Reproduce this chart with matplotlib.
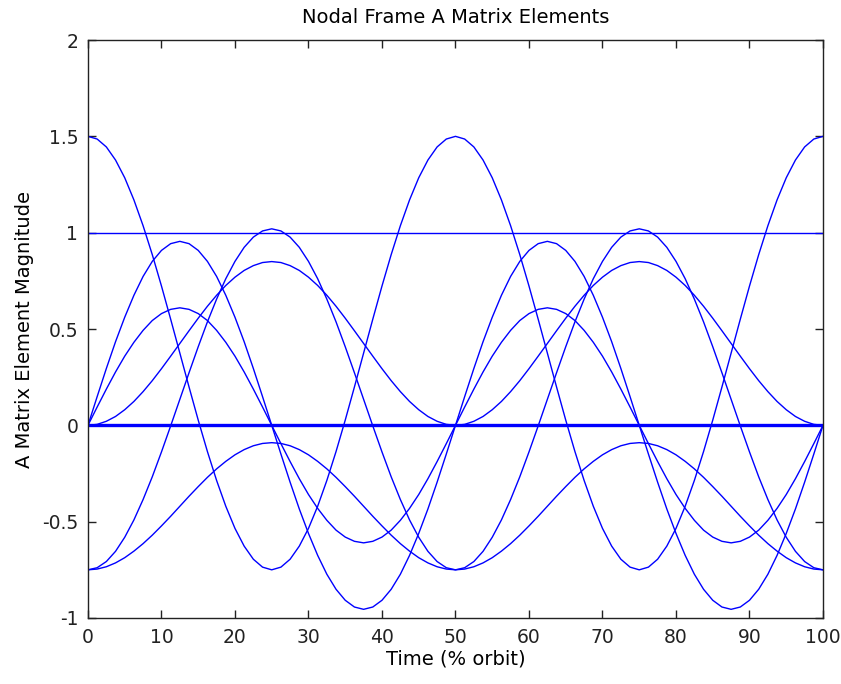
# Nodal frame A matrix elements over one orbit
import numpy as np
import matplotlib
matplotlib.use("Agg")
import matplotlib.pyplot as plt

# time samples, % of orbit (1.25 % step)
time_pct = np.linspace(0, 100, 81)

# matrix element values
elem_a = [1.500, 1.486, 1.445, 1.377, 1.285, 1.170, 1.036, 0.886, 0.723, 0.551, 0.375, 0.199, 0.027, -0.136, -0.286, -0.420, -0.535, -0.627, -0.695, -0.736, -0.750,
          -0.736, -0.695, -0.627, -0.535, -0.420, -0.286, -0.136, 0.027, 0.199, 0.375, 0.551, 0.723, 0.886, 1.036, 1.170, 1.285, 1.377, 1.445, 1.486, 1.500,
          1.486, 1.445, 1.377, 1.285, 1.170, 1.036, 0.886, 0.723, 0.551, 0.375, 0.199, 0.027, -0.136, -0.286, -0.420, -0.535, -0.627, -0.695, -0.736, -0.750,
          -0.736, -0.695, -0.627, -0.535, -0.420, -0.286, -0.136, 0.027, 0.199, 0.375, 0.551, 0.723, 0.886, 1.036, 1.170, 1.285, 1.377, 1.445, 1.486, 1.500]

elem_b = [-0.750, -0.739, -0.707, -0.654, -0.581, -0.491, -0.385, -0.267, -0.138, -0.003, 0.135, 0.273, 0.408, 0.537, 0.655, 0.761, 0.851, 0.924, 0.977, 1.009, 1.020,
          1.009, 0.977, 0.924, 0.851, 0.761, 0.655, 0.537, 0.408, 0.273, 0.135, -0.003, -0.138, -0.267, -0.385, -0.491, -0.581, -0.654, -0.707, -0.739, -0.750,
          -0.739, -0.707, -0.654, -0.581, -0.491, -0.385, -0.267, -0.138, -0.003, 0.135, 0.273, 0.408, 0.537, 0.655, 0.761, 0.851, 0.924, 0.977, 1.009, 1.020,
          1.009, 0.977, 0.924, 0.851, 0.761, 0.655, 0.537, 0.408, 0.273, 0.135, -0.003, -0.138, -0.267, -0.385, -0.491, -0.581, -0.654, -0.707, -0.739, -0.750]

elem_c = [0.000, 0.005, 0.021, 0.046, 0.081, 0.124, 0.175, 0.232, 0.294, 0.359, 0.425, 0.491, 0.556, 0.618, 0.675, 0.726, 0.769, 0.804, 0.829, 0.845, 0.850,
          0.845, 0.829, 0.804, 0.769, 0.726, 0.675, 0.618, 0.556, 0.491, 0.425, 0.359, 0.294, 0.232, 0.175, 0.124, 0.081, 0.046, 0.021, 0.005, 0.000,
          0.005, 0.021, 0.046, 0.081, 0.124, 0.175, 0.232, 0.294, 0.359, 0.425, 0.491, 0.556, 0.618, 0.675, 0.726, 0.769, 0.804, 0.829, 0.845, 0.850,
          0.845, 0.829, 0.804, 0.769, 0.726, 0.675, 0.618, 0.556, 0.491, 0.425, 0.359, 0.294, 0.232, 0.175, 0.124, 0.081, 0.046, 0.021, 0.005, 0.000]

elem_d = [0.000, 0.149, 0.295, 0.434, 0.561, 0.675, 0.773, 0.851, 0.908, 0.943, 0.955, 0.943, 0.908, 0.851, 0.773, 0.675, 0.561, 0.434, 0.295, 0.149, 0.000,
          -0.149, -0.295, -0.434, -0.561, -0.675, -0.773, -0.851, -0.908, -0.943, -0.955, -0.943, -0.908, -0.851, -0.773, -0.675, -0.561, -0.434, -0.295, -0.149, 0.000,
          0.149, 0.295, 0.434, 0.561, 0.675, 0.773, 0.851, 0.908, 0.943, 0.955, 0.943, 0.908, 0.851, 0.773, 0.675, 0.561, 0.434, 0.295, 0.149, 0.000,
          -0.149, -0.295, -0.434, -0.561, -0.675, -0.773, -0.851, -0.908, -0.943, -0.955, -0.943, -0.908, -0.851, -0.773, -0.675, -0.561, -0.434, -0.295, -0.149, 0.000]

elem_e = [0.000, 0.095, 0.188, 0.277, 0.359, 0.431, 0.493, 0.544, 0.580, 0.602, 0.610, 0.602, 0.580, 0.544, 0.493, 0.431, 0.359, 0.277, 0.188, 0.095, 0.000,
          -0.095, -0.188, -0.277, -0.359, -0.431, -0.493, -0.544, -0.580, -0.602, -0.610, -0.602, -0.580, -0.544, -0.493, -0.431, -0.359, -0.277, -0.188, -0.095, 0.000,
          0.095, 0.188, 0.277, 0.359, 0.431, 0.493, 0.544, 0.580, 0.602, 0.610, 0.602, 0.580, 0.544, 0.493, 0.431, 0.359, 0.277, 0.188, 0.095, 0.000,
          -0.095, -0.188, -0.277, -0.359, -0.431, -0.493, -0.544, -0.580, -0.602, -0.610, -0.602, -0.580, -0.544, -0.493, -0.431, -0.359, -0.277, -0.188, -0.095, 0.000]

elem_f = [-0.750, -0.746, -0.734, -0.714, -0.687, -0.653, -0.614, -0.570, -0.522, -0.472, -0.420, -0.368, -0.318, -0.270, -0.226, -0.187, -0.153, -0.126, -0.106, -0.094, -0.090,
          -0.094, -0.106, -0.126, -0.153, -0.187, -0.226, -0.270, -0.318, -0.368, -0.420, -0.472, -0.522, -0.570, -0.614, -0.653, -0.687, -0.714, -0.734, -0.746, -0.750,
          -0.746, -0.734, -0.714, -0.687, -0.653, -0.614, -0.570, -0.522, -0.472, -0.420, -0.368, -0.318, -0.270, -0.226, -0.187, -0.153, -0.126, -0.106, -0.094, -0.090,
          -0.094, -0.106, -0.126, -0.153, -0.187, -0.226, -0.270, -0.318, -0.368, -0.420, -0.472, -0.522, -0.570, -0.614, -0.653, -0.687, -0.714, -0.734, -0.746, -0.750]

elem_one = [1.0] * len(time_pct)
elem_zero = [0.0] * len(time_pct)

y_ticks = [-1, -0.5, 0, 0.5, 1, 1.5, 2]
y_tick_labels = ["-1", "-0.5", "0", "0.5", "1", "1.5", "2"]
x_ticks = [0, 10, 20, 30, 40, 50, 60, 70, 80, 90, 100]

plt.rcParams["font.family"] = ["DejaVu Sans"]
plt.rcParams["axes.unicode_minus"] = False

fig = plt.figure(figsize=(8.41, 6.84), dpi=100)
ax = fig.add_axes([0.1046, 0.0965, 0.8740, 0.8450])

blue = "#0000ff"
# zero elements overlap into a heavier line
ax.plot(time_pct, elem_zero, color=blue, lw=2.4)
for series in [elem_one, elem_a, elem_b, elem_c, elem_d, elem_e, elem_f]:
    ax.plot(time_pct, series, color=blue, lw=1.0)

ax.set_xlim(0, 100)
ax.set_ylim(-1, 2)
ax.set_xticks(x_ticks)
ax.set_xticklabels([str(v) for v in x_ticks])
ax.set_yticks(y_ticks)
ax.set_yticklabels(y_tick_labels)
ax.tick_params(direction="in", length=6, width=1, top=True, right=True,
               labelsize=13.5, pad=7, colors="#222222")
for sp in ax.spines.values():
    sp.set_linewidth(1.0)
    sp.set_color("#222222")

ax.set_title("Nodal Frame A Matrix Elements", fontsize=14, pad=12)
ax.set_xlabel("Time (% orbit)", fontsize=14, labelpad=2)
ax.set_ylabel("A Matrix Element Magnitude", fontsize=14, labelpad=6)

fig.savefig("out.png", dpi=100)
